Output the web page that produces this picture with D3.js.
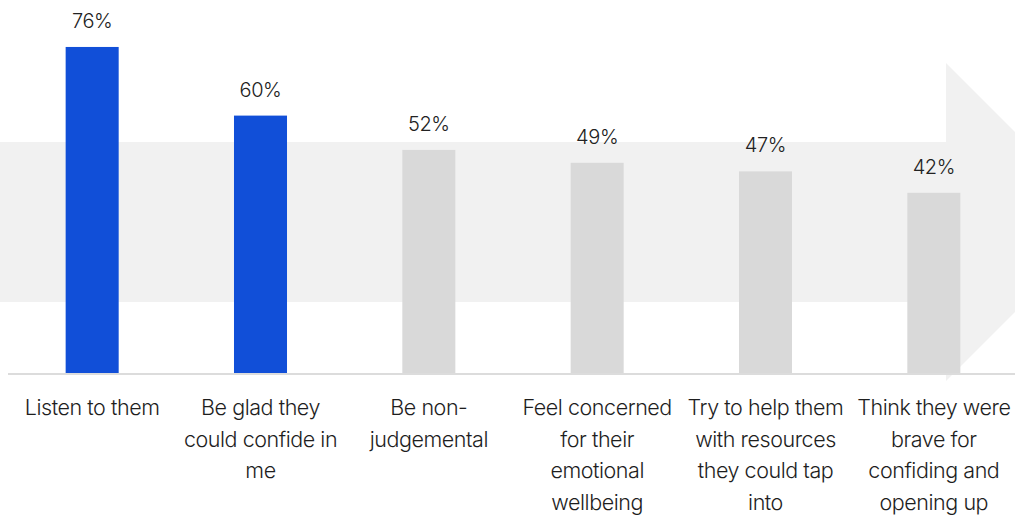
<!DOCTYPE html>
<html>
<head>
<meta charset="utf-8">
<script src="https://cdn.jsdelivr.net/npm/d3@7"></script>
<style>
  html, body { margin: 0; padding: 0; background: #ffffff; }
  svg { display: block; }
</style>
</head>
<body>
<svg id="chart" width="1015" height="515"></svg>
<script>
// Survey responses: what people say they would do when someone confides in them
const categories = [
  "Listen to them",
  "Be glad they\ncould confide in\nme",
  "Be non-\njudgemental",
  "Feel concerned\nfor their\nemotional\nwellbeing",
  "Try to help them\nwith resources\nthey could tap\ninto",
  "Think they were\nbrave for\nconfiding and\nopening up"
];
const values = [76, 60, 52, 49, 47, 42];
const highlighted = [true, true, false, false, false, false];

const width = 1015, height = 515;
const baseline = 373;

const svg = d3.select("#chart");

// Background arrow pointing right
const arrow = [
  [0, 142], [946, 142], [946, 63], [1105, 222],
  [946, 381], [946, 302], [0, 302]
];
svg.append("path")
  .attr("d", d3.line()(arrow) + "Z")
  .attr("fill", "#f1f1f1");

const x = d3.scaleBand()
  .domain(categories)
  .range([8, 1018])
  .paddingInner(0.685)
  .paddingOuter(0.3425);

const y = d3.scaleLinear()
  .domain([0, 100])
  .range([baseline, baseline - 429]);

// Bars
svg.append("g")
  .selectAll("rect")
  .data(values)
  .join("rect")
  .attr("x", (d, i) => x(categories[i]))
  .attr("y", d => y(d))
  .attr("width", x.bandwidth())
  .attr("height", d => y(0) - y(d))
  .attr("fill", (d, i) => highlighted[i] ? "#114fd8" : "#d9d9d9");

// Baseline axis
const axis = d3.axisBottom(x).tickSize(0).tickFormat("");
const axisG = svg.append("g")
  .attr("transform", `translate(0,${baseline + 1})`)
  .call(axis);
axisG.select(".domain")
  .attr("stroke", "#dcdcdc")
  .attr("stroke-width", 2)
  .attr("d", `M8,0H1015`);

// Value labels
svg.append("g")
  .selectAll("text")
  .data(values)
  .join("text")
  .attr("x", (d, i) => x(categories[i]) + x.bandwidth() / 2)
  .attr("y", d => y(d) - 19)
  .attr("text-anchor", "middle")
  .attr("font-family", "Inter, 'Liberation Sans', sans-serif")
  .attr("font-size", 20)
  .attr("font-weight", 300)
  .attr("letter-spacing", -0.4)
  .attr("fill", "#222222")
  .text(d => d + "%");

// Category labels, one tspan per line
const labels = svg.append("g")
  .selectAll("text")
  .data(categories)
  .join("text")
  .attr("x", d => x(d) + x.bandwidth() / 2)
  .attr("y", 415)
  .attr("text-anchor", "middle")
  .attr("font-family", "Inter, 'Noto Sans', sans-serif")
  .attr("font-size", 21.5)
  .attr("font-weight", 300)
  .attr("letter-spacing", -0.45)
  .attr("fill", "#1e1e1e");

labels.each(function (d) {
  const t = d3.select(this);
  d.split("\n").forEach((line, i) => {
    t.append("tspan")
      .attr("x", x(d) + x.bandwidth() / 2)
      .attr("dy", i === 0 ? 0 : 31.5)
      .text(line);
  });
});
</script>
</body>
</html>
